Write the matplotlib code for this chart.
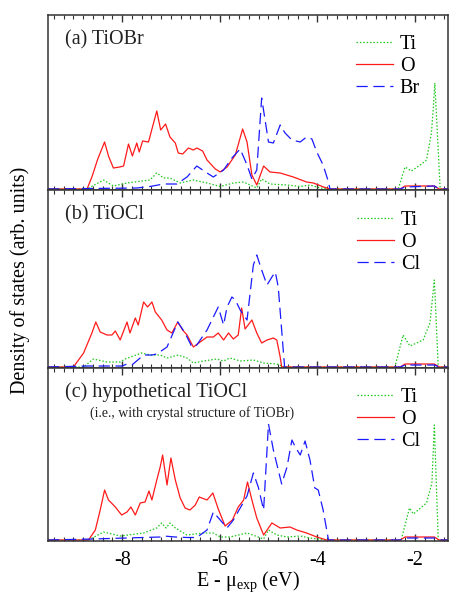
import matplotlib
matplotlib.use("Agg")
import matplotlib.pyplot as plt
from matplotlib.ticker import MultipleLocator

plt.rcParams['font.family'] = ['Liberation Serif', 'DejaVu Serif']
plt.rcParams['mathtext.fontset'] = 'custom'
plt.rcParams['mathtext.rm'] = 'Liberation Serif'
plt.rcParams['mathtext.it'] = 'Liberation Serif:italic'
plt.rcParams['axes.unicode_minus'] = False

# ---- (a) TiOBr ----
E_O_a = [-9.52, -8.72, -8.62, -8.50, -8.36, -8.28, -8.18, -8.05, -7.97, -7.87, -7.79, -7.70, -7.65,
         -7.58, -7.46, -7.29, -7.21, -7.11, -7.02, -6.91, -6.85, -6.76, -6.64, -6.54, -6.47, -6.35,
         -6.26, -6.09, -5.99, -5.85, -5.68, -5.53, -5.44, -5.34, -5.24, -5.10, -4.97, -4.76, -4.49,
         -4.22, -4.08, -3.87, -3.74, -2.30, -2.20, -1.60, -1.50, -1.30]
O_a = [0, 0, 12, 30, 47, 33, 21, 22, 23, 45, 33, 46, 37, 48, 47, 78, 59, 65, 52, 46, 36, 35, 41, 39,
       41, 38, 29, 20, 17, 22, 34, 60, 47, 14, 4, 23, 17, 16, 12, 7, 6, 2, 0, 0, 3, 3, 0, 0]
E_Ti_a = [-9.52, -8.72, -8.38, -8.18, -7.90, -7.43, -7.29, -7.15, -7.02, -6.81, -6.54, -6.26, -5.99,
          -5.72, -5.51, -5.31, -5.24, -5.14, -4.97, -4.62, -4.35, -4.15, -3.94, -3.74, -2.34, -2.20,
          -2.07, -1.89, -1.76, -1.66, -1.62, -1.59, -1.48, -1.30]
Ti_a = [0, 0, 9, 3, 6, 9, 16, 11, 11, 6, 9, 6, 2.5, 6, 7, 2.5, 1, 10, 5, 4, 2.5, 4, 1, 0, 0, 22, 18,
        24, 29, 56, 82, 106, 0, 0]
E_X_a = [-9.52, -7.70, -7.43, -7.15, -6.88, -6.67, -6.47, -6.26, -6.13, -5.92, -5.75, -5.58, -5.44,
         -5.34, -5.24, -5.14, -5.07, -5.00, -4.90, -4.76, -4.66, -4.52, -4.35, -4.22, -4.11, -4.01,
         -3.88, -3.77, -3.74, -2.30, -2.20, -1.60, -1.50, -1.30]
X_a = [0, 1, 2.5, 5, 5, 12, 23, 16, 12, 19, 31, 40, 24, 10, 19, 91, 69, 47, 46, 64, 56, 49, 47, 52,
       50, 37, 24, 7, 0, 0, 2, 3, 0, 0]

# ---- (b) TiOCl ----
E_O_b = [-9.52, -9.00, -8.79, -8.62, -8.54, -8.45, -8.31, -8.21, -8.14, -8.04, -7.90, -7.84, -7.73,
         -7.67, -7.56, -7.48, -7.39, -7.32, -7.19, -7.08, -6.98, -6.86, -6.76, -6.67, -6.54, -6.40,
         -6.26, -6.13, -6.03, -5.92, -5.82, -5.72, -5.62, -5.55, -5.48, -5.34, -5.24, -5.14, -5.03,
         -4.90, -4.83, -4.76, -4.73, -2.30, -2.20, -1.60, -1.50, -1.30]
O_b = [0, 0, 14, 34, 45, 35, 32, 32, 36, 27, 45, 34, 49, 42, 65, 60, 65, 55, 47, 37, 34, 45, 37, 32,
       20, 25, 30, 30, 34, 27, 34, 28, 32, 59, 38, 47, 34, 24, 27, 29, 27, 10, 0, 0, 3, 3, 0, 0]
E_Ti_b = [-9.52, -8.79, -8.59, -8.31, -8.04, -7.94, -7.60, -7.43, -7.22, -7.08, -6.85, -6.67, -6.54,
          -6.33, -6.06, -5.92, -5.79, -5.58, -5.31, -5.10, -4.83, -4.67, -2.41, -2.24, -2.10, -1.83,
          -1.69, -1.60, -1.52, -1.30]
Ti_b = [0, 0, 8, 5, 5, 8, 14, 12, 12, 9, 12, 9, 4, 6, 8, 6, 9, 6, 7, 4, 3, 0, 0, 32, 21, 27, 44, 87,
        0, 0]
E_X_b = [-9.52, -8.70, -8.00, -7.90, -7.80, -7.56, -7.39, -7.29, -7.08, -6.86, -6.71, -6.57, -6.47,
         -6.26, -6.13, -6.03, -5.92, -5.85, -5.75, -5.68, -5.58, -5.44, -5.31, -5.24, -5.14, -5.03,
         -4.93, -4.86, -4.80, -4.73, -4.67, -2.30, -2.20, -1.60, -1.50, -1.30]
X_b = [0, 1, 1, 3, 2, 12, 12, 13, 20, 45, 34, 20, 22, 37, 50, 60, 42, 60, 70, 67, 57, 47, 102, 112,
       97, 82, 90, 95, 80, 37, 0, 0, 2, 2, 0, 0]

# ---- (c) hypothetical TiOCl ----
E_O_c = [-9.52, -8.69, -8.55, -8.45, -8.36, -8.28, -8.14, -8.01, -7.90, -7.82, -7.73, -7.63, -7.53,
         -7.45, -7.39, -7.29, -7.22, -7.17, -7.08, -7.00, -6.91, -6.81, -6.71, -6.61, -6.50, -6.42,
         -6.26, -6.14, -6.03, -5.89, -5.74, -5.62, -5.51, -5.43, -5.34, -5.24, -5.10, -4.93, -4.76,
         -4.56, -4.42, -4.22, -4.01, -3.81, -2.30, -2.20, -1.60, -1.50, -1.30]
O_c = [0, 0, 10, 30, 50, 40, 33, 25, 28, 33, 25, 37, 38, 49, 40, 60, 73, 85, 55, 82, 60, 42, 32, 30,
       35, 43, 40, 47, 31, 14, 20, 33, 40, 58, 40, 22, 5, 17, 12, 13, 10, 7, 3, 0, 0, 3, 3, 0, 0]
E_Ti_c = [-9.52, -8.69, -8.38, -8.04, -7.56, -7.29, -7.19, -7.10, -7.02, -6.91, -6.67, -6.33, -6.13,
          -5.99, -5.79, -5.44, -5.21, -5.10, -5.00, -4.83, -4.62, -4.35, -4.15, -3.81, -2.28, -2.11,
          -2.03, -1.76, -1.65, -1.60, -1.52, -1.30]
Ti_c = [0, 0, 8, 4, 7, 12, 17, 12, 17, 12, 5, 7, 7, 3, 3, 7, 3, 1, 10, 5, 3, 4, 2, 0, 0, 32, 26, 37,
        57, 115, 0, 0]
E_X_c = [-9.52, -8.60, -7.22, -7.15, -6.91, -6.67, -6.47, -6.26, -6.13, -5.99, -5.85, -5.72, -5.58,
         -5.44, -5.31, -5.21, -5.10, -5.00, -4.90, -4.73, -4.62, -4.52, -4.45, -4.35, -4.25, -4.15,
         -4.05, -3.98, -3.88, -3.77, -2.30, -2.20, -1.60, -1.50, -1.30]
X_c = [0, 1, 3, 4, 3, 2.5, 2.5, 10, 28, 20, 12, 20, 32, 44, 67, 53, 30, 116, 90, 56, 73, 100, 93, 85,
       99, 80, 52, 50, 30, 0, 0, 2, 2, 0, 0]

panel_titles = ['(a) TiOBr', '(b) TiOCl', '(c) hypothetical TiOCl']
halogens = ['Br', 'Cl', 'Cl']
panels = [
    (E_Ti_a, Ti_a, E_O_a, O_a, E_X_a, X_a),
    (E_Ti_b, Ti_b, E_O_b, O_b, E_X_b, X_b),
    (E_Ti_c, Ti_c, E_O_c, O_c, E_X_c, X_c),
]

fig = plt.figure(figsize=(4.49, 5.93), dpi=100)
W, H = 449.0, 593.0
# panel boxes in pixels: (top, bottom)
boxes = [(15, 190), (190, 368), (368, 541)]
left, right = 48, 448
fs = 14.5

green, red, blue = '#1ec81e', '#ff1a1a', '#1a1aff'

axes = []
for i, (top, bot) in enumerate(boxes):
    ax = fig.add_axes([left / W, 1 - bot / H, (right - left) / W, (bot - top) / H])
    axes.append(ax)
    eti, ti, eo, o, ex, xx = panels[i]
    ax.plot(eti, ti, color=green, lw=0.9, ls=(0, (1.2, 1.5)), label='Ti')
    ax.plot(eo, o, color=red, lw=0.9, ls='-', label='O')
    ax.plot(ex, xx, color=blue, lw=0.9, ls=(0, (9, 4.5)), label=halogens[i])

    ax.set_xlim(-9.52, -1.32)
    ax.set_ylim(-1, bot - top - 1)
    ax.set_yticks([])
    ax.xaxis.set_major_locator(MultipleLocator(2))
    ax.xaxis.set_minor_locator(MultipleLocator(0.2))
    ax.tick_params(axis='x', which='both', direction='in', top=True, bottom=True,
                   color='#333333', labelsize=fs)
    ax.tick_params(axis='x', which='major', length=5, width=1, pad=7)
    ax.tick_params(axis='x', which='minor', length=3, width=0.8)
    for s in ax.spines.values():
        s.set_color('#333333')
        s.set_linewidth(1.1)
    if i < 2:
        ax.tick_params(axis='x', labelbottom=False)

    ax.text(0.042, 0.86, panel_titles[i], transform=ax.transAxes, fontsize=fs,
            va='center', ha='left', color='#222222')
    ax.legend(loc='upper right', bbox_to_anchor=(0.93, 0.885), frameon=False, fontsize=fs,
              handlelength=1.85, handletextpad=0.35, labelspacing=0.15, borderaxespad=0,
              borderpad=0)

axes[2].text(0.105, 0.74, '(i.e., with crystal structure of TiOBr)', transform=axes[2].transAxes,
             fontsize=10, va='center', ha='left', color='#222222')
axes[2].set_xlabel('E - \u03bc$_{\\rm exp}$ (eV)', fontsize=fs, labelpad=0)
fig.text(20 / W, 1 - 280 / H, 'Density of states (arb. units)', rotation=90, fontsize=fs,
         va='center', ha='center')

fig.savefig('out.png', dpi=100)
